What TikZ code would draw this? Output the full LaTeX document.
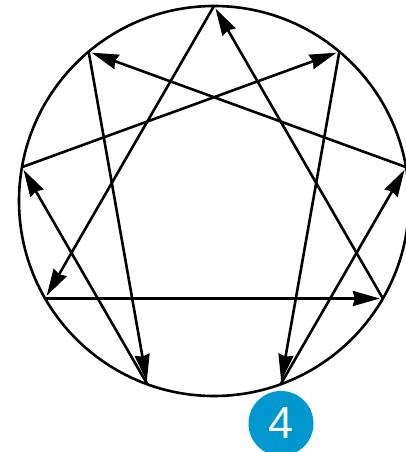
\documentclass[tikz,border=0pt]{standalone}
\usepackage{fontspec}
\setmainfont{Liberation Sans}
\usetikzlibrary{arrows.meta}
\definecolor{typeB}{RGB}{0,152,206}

\begin{document}
\begin{tikzpicture}[>={Stealth[length=27pt,width=15pt,inset=2pt]},x=1pt,y=1pt,line width=2.6pt,every node/.style={font=\fontsize{45}{45}\selectfont}]
\useasboundingbox (0,0) rectangle (405,452);
\coordinate (c) at (214,251); \draw (c) circle[radius=195];
\foreach \n in {1,...,9} \coordinate (p\n) at ([shift={(214,251)}]90-\n*40:195);
% 1-4-2-8-5-7-1
\draw[->,shorten >=3pt] (p1)--(p4); \draw[->,shorten >=3pt] (p4)--(p2); \draw[->,shorten >=3pt] (p2)--(p8);
\draw[->,shorten >=3pt] (p8)--(p5); \draw[->,shorten >=3pt] (p5)--(p7); \draw[->,shorten >=3pt] (p7)--(p1);
% 9-6-3-9
\draw[->,shorten >=3pt] (p9)--(p6); \draw[->,shorten >=3pt] (p6)--(p3); \draw[->,shorten >=3pt] (p3)--(p9);
\node[circle,fill=typeB,text=white,minimum size=65pt,inner sep=0pt] (t4) at (281,28.5) {4};
\end{tikzpicture}
\end{document}
